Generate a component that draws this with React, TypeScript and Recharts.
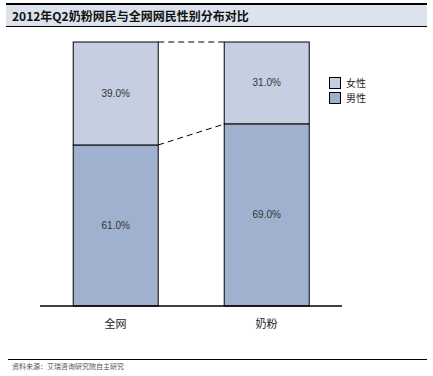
import React from 'react';
import { BarChart, Bar, XAxis, YAxis, LabelList } from 'recharts';

const categories = ['全网', '奶粉'];
const maleShare = [61.0, 69.0];
const femaleShare = [39.0, 31.0];
const seriesNames = { male: '男性', female: '女性' };

const title = '2012年Q2奶粉网民与全网网民性别分布对比';
const source = '资料来源：艾瑞咨询研究院自主研究';

const MALE_COLOR = '#9fb1cf';
const FEMALE_COLOR = '#c5cfe1';
const GAP = 0.22;

const data = categories.map((name, i) => ({
  name,
  male: maleShare[i],
  female: femaleShare[i],
}));

const fmt = (v: number) => `${v.toFixed(1)}%`;

// bar with dashed connector to the next category's bar
const connectedShape = (key: 'male' | 'female') => (props: any) => {
  const { x, y, width, height, index } = props;
  const band = width / (1 - 2 * GAP);
  let line = null;
  if (index < data.length - 1) {
    const ppu = height / (key === 'male' ? maleShare[index] : femaleShare[index]);
    const base = y + height;
    const endY = key === 'male' ? base - maleShare[index + 1] * ppu : y;
    line = (
      <line
        x1={x + width}
        y1={y}
        x2={x + band}
        y2={endY}
        stroke="#000"
        strokeWidth={1}
        strokeDasharray="6 4"
      />
    );
  }
  return (
    <g>
      <rect x={x} y={y} width={width} height={height} fill={props.fill} stroke="#000" strokeWidth={1} />
      {line}
    </g>
  );
};

const legendItems = [
  { label: seriesNames.female, color: FEMALE_COLOR },
  { label: seriesNames.male, color: MALE_COLOR },
];

export default function App() {
  return (
    <div style={{ position: 'absolute', left: 0, top: 0, width: 433, height: 376, background: '#fff' }}>
      <div
        style={{
          position: 'absolute',
          left: 6,
          top: 3,
          width: 415,
          height: 21,
          background: '#dde3ed',
          borderTop: '2px solid #000',
          borderBottom: '1.5px solid #000',
          fontFamily: '"Noto Sans CJK SC", sans-serif',
          fontWeight: 'bold',
          fontSize: 12,
          lineHeight: '21px',
          paddingLeft: 6,
          boxSizing: 'content-box',
          color: '#111',
        }}
      >
        {title}
      </div>
      <BarChart
        width={433}
        height={376}
        data={data}
        margin={{ top: 42, right: 91, bottom: 40, left: 40 }}
        barCategoryGap={`${GAP * 100}%`}
        style={{ fontFamily: '"Liberation Sans", "Noto Sans CJK SC", sans-serif' }}
      >
        <XAxis
          dataKey="name"
          height={30}
          axisLine={{ stroke: '#000', strokeWidth: 1.5 }}
          tickLine={false}
          tick={{ fill: '#222', fontSize: 11, fontFamily: '"Noto Sans CJK SC", sans-serif' }}
          tickMargin={8}
        />
        <YAxis hide domain={[0, 100]} />
        <Bar
          dataKey="male"
          name={seriesNames.male}
          stackId="a"
          fill={MALE_COLOR}
          shape={connectedShape('male')}
          isAnimationActive={false}
        >
          <LabelList dataKey="male" position="center" formatter={fmt} fill="#333" fontSize={10} />
        </Bar>
        <Bar
          dataKey="female"
          name={seriesNames.female}
          stackId="a"
          fill={FEMALE_COLOR}
          shape={connectedShape('female')}
          isAnimationActive={false}
        >
          <LabelList dataKey="female" position="center" formatter={fmt} fill="#333" fontSize={10} />
        </Bar>
      </BarChart>
      <div
        style={{
          position: 'absolute',
          left: 329,
          top: 75,
          fontFamily: '"Noto Sans CJK SC", sans-serif',
          fontSize: 10,
          color: '#222',
        }}
      >
        {legendItems.map((it) => (
          <div key={it.label} style={{ display: 'flex', alignItems: 'center', height: 15 }}>
            <span
              style={{
                display: 'inline-block',
                width: 10,
                height: 10,
                background: it.color,
                border: '1px solid #000',
                marginRight: 5,
              }}
            />
            <span style={{ lineHeight: '12px' }}>{it.label}</span>
          </div>
        ))}
      </div>
      <div
        style={{
          position: 'absolute',
          left: 8,
          top: 359,
          width: 415,
          borderTop: '1.5px solid #000',
          fontFamily: '"Noto Sans CJK SC", sans-serif',
          fontSize: 7,
          lineHeight: '12px',
          paddingLeft: 4,
          color: '#555',
        }}
      >
        {source}
      </div>
    </div>
  );
}
